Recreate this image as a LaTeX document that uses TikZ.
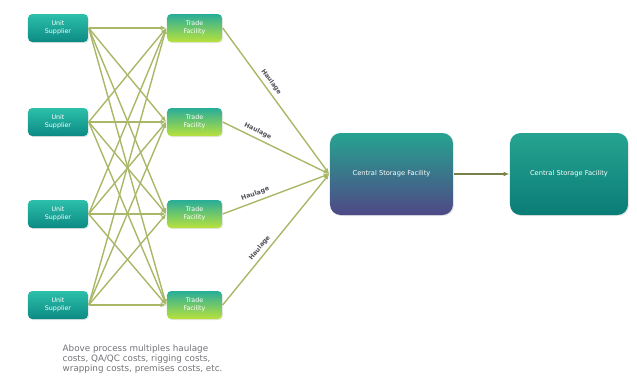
\documentclass[tikz,border=0pt]{standalone}
\usepackage{fontspec}
\setmainfont{DejaVu Sans}
\usetikzlibrary{shadows,arrows.meta}

\definecolor{tealtop}{HTML}{2CC0AA}
\definecolor{tealbot}{HTML}{0C8A84}
\definecolor{limebot}{HTML}{B9E23C}
\definecolor{purplebot}{HTML}{4F4886}
\definecolor{linegreen}{HTML}{A8B868}
\definecolor{labelgray}{HTML}{505058}

\tikzset{
  box/.style={rounded corners=1.2pt,align=center,text=white,inner sep=0pt,
    font=\fontsize{1.8}{2.4}\selectfont,drop shadow={opacity=0.2,shadow xshift=0.3pt,shadow yshift=-0.3pt}},
  supplier/.style={box,minimum width=0.6cm,minimum height=0.28cm,top color=tealtop,bottom color=tealbot},
  trade/.style={box,minimum width=0.55cm,minimum height=0.28cm,top color=tealtop!90!black,bottom color=limebot},
  storage/.style={box,rounded corners=3pt,minimum width=1.23cm,minimum height=0.82cm,font=\fontsize{1.9}{2.4}\selectfont},
  link/.style={draw=linegreen,line width=0.4pt,-{Latex[length=1.6pt,width=1.3pt]}},
  haul/.style={sloped,above,font=\bfseries\fontsize{1.8}{2.2}\selectfont,text=labelgray,inner sep=1pt}
}

\begin{document}
\begin{tikzpicture}
  \useasboundingbox (0,0) rectangle (6.37,3.77);
  % suppliers and trade facilities
  \foreach \i/\y in {1/3.49,2/2.55,3/1.63,4/0.72} {
    \node[supplier] (sup\i) at (0.58,\y) {Unit\\Supplier};
    \node[trade] (trd\i) at (1.945,\y) {Trade\\Facility};
  }
  % central storage facilities
  \node[storage,top color=tealtop!85!black,bottom color=purplebot] (csf) at (3.915,2.03) {Central Storage Facility};
  \node[storage,minimum width=1.18cm,top color=tealtop!85!black,bottom color=tealbot!90!black] (csf2) at (5.69,2.03) {Central Storage Facility};
  % every supplier to every trade facility
  \foreach \i in {1,...,4}
    \foreach \j in {1,...,4}
      \draw[link] (sup\i.east) -- (trd\j.west);
  % haulage to central storage
  \draw[link] (trd1.east) -- node[haul,pos=0.4] {Haulage} (csf.west);
  \draw[link] (trd2.east) -- node[haul,pos=0.3] {Haulage} (csf.west);
  \draw[link] (trd3.east) -- node[haul,pos=0.33] {Haulage} (csf.west);
  \draw[link] (trd4.east) -- node[haul,pos=0.4] {Haulage} (csf.west);
  \draw[link,draw=linegreen!70!black] (csf.east) -- (csf2.west);
  % note
  \node[anchor=north west,align=left,text=labelgray!80,inner sep=0pt,
    font=\fontsize{2.5}{2.8}\selectfont] (note) at (0.62,0.33)
    {Above process multiples haulage\\costs, QA/QC costs, rigging costs,\\wrapping costs, premises costs, etc.};
\end{tikzpicture}
\end{document}
